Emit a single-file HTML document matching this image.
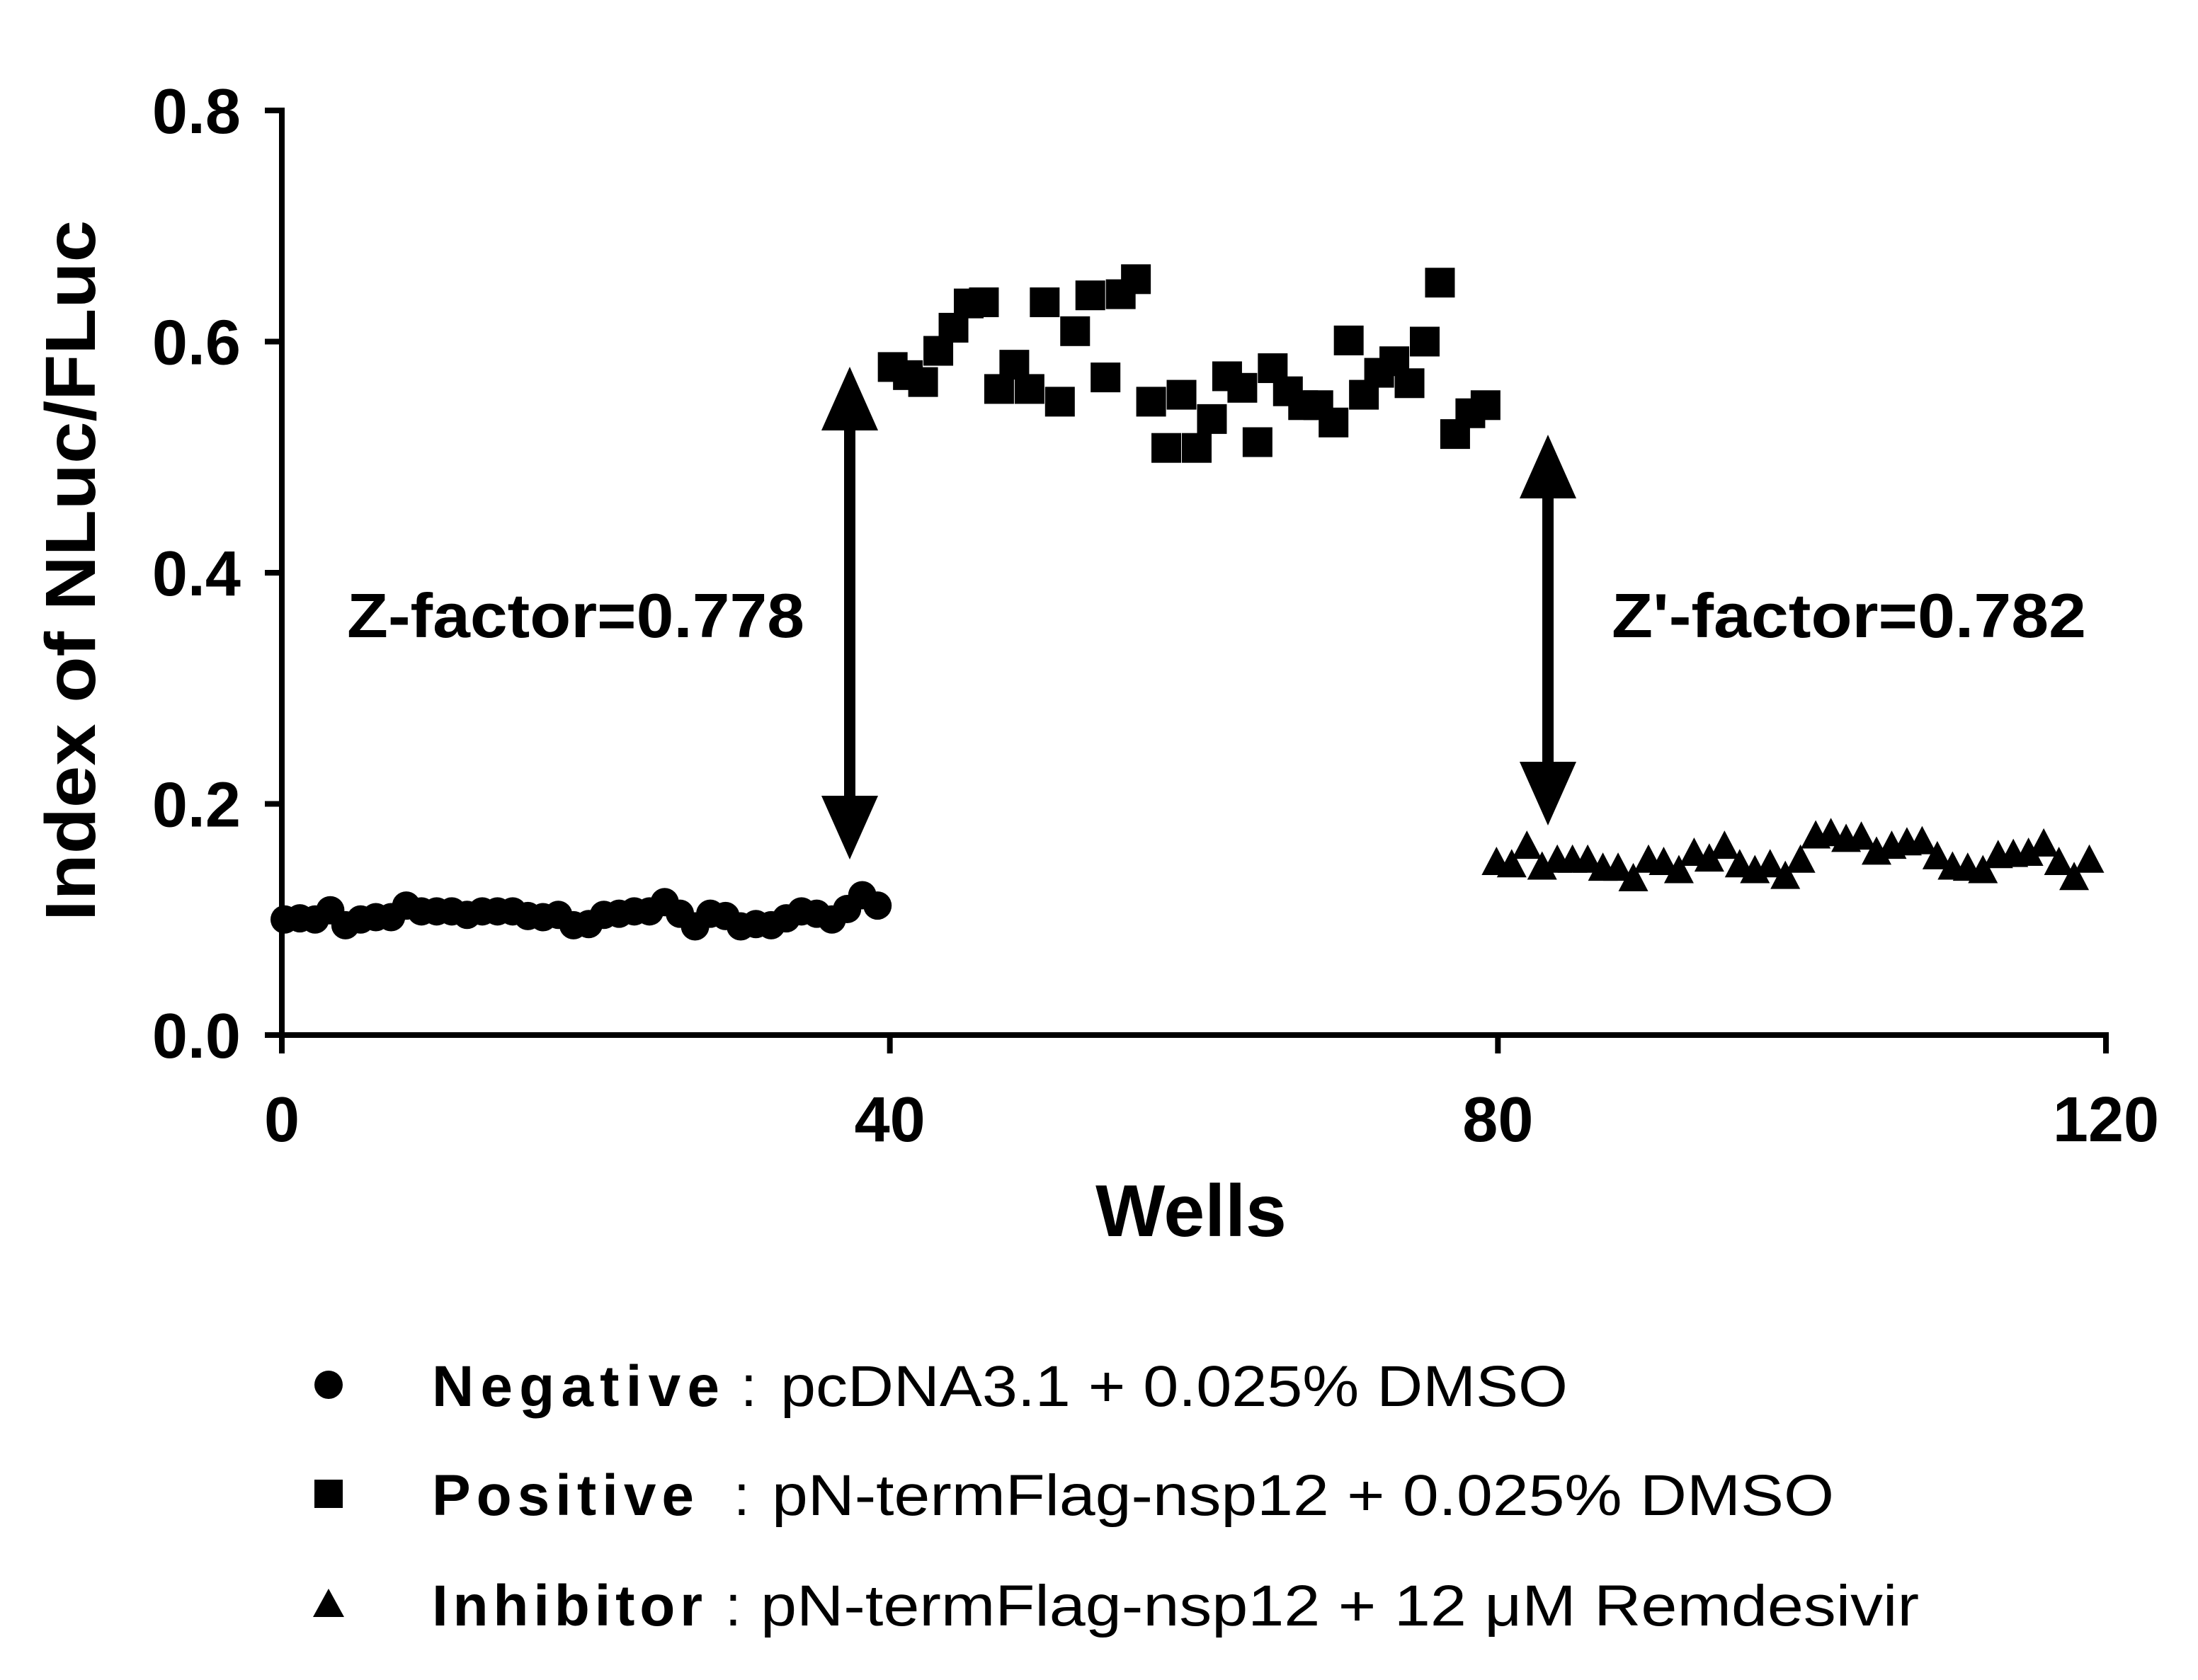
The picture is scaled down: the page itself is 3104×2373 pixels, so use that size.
<!DOCTYPE html>
<html><head><meta charset="utf-8"><style>
html,body{margin:0;padding:0;background:#fff}
svg{display:block}
text{font-family:"Liberation Sans",Arial,sans-serif;fill:#000}
</style></head><body>
<svg id="chart" width="3104" height="2373" viewBox="0 0 3104 2373" xmlns="http://www.w3.org/2000/svg">
<g id="axes"></g>
<g id="marks"></g>
<g>
<rect x="1192" y="590" width="16" height="540" fill="#000"/>
<polygon points="1200,518 1160,608 1240,608" fill="#000"/>
<polygon points="1200,1214 1160,1124 1240,1124" fill="#000"/>
</g>
<g>
<rect x="2178" y="680" width="16" height="420" fill="#000"/>
<polygon points="2186,614 2146,704 2226,704" fill="#000"/>
<polygon points="2186,1166 2146,1076 2226,1076" fill="#000"/>
</g>
<text x="490" y="900" font-size="88" font-weight="bold" textLength="646" lengthAdjust="spacingAndGlyphs">Z-factor=0.778</text>
<text x="2276" y="900" font-size="88" font-weight="bold" textLength="670" lengthAdjust="spacingAndGlyphs">Z'-factor=0.782</text>
<text x="1682" y="1746" font-size="104" font-weight="bold" text-anchor="middle">Wells</text>
<text transform="translate(134,806) rotate(-90)" font-size="100" font-weight="bold" text-anchor="middle" textLength="990" lengthAdjust="spacingAndGlyphs">Index of NLuc/FLuc</text>
<g>
<g>
<circle cx="464" cy="1956" r="20" fill="#000"/>
<text x="610" y="1986" font-size="82" font-weight="bold" textLength="406" lengthAdjust="spacing">Negative</text>
<text x="1046" y="1986" font-size="82">:</text>
<text x="1102" y="1986" font-size="82" textLength="1112" lengthAdjust="spacingAndGlyphs">pcDNA3.1 + 0.025% DMSO</text>
</g>
<g>
<rect x="444" y="2090" width="40" height="40" fill="#000"/>
<text x="610" y="2140" font-size="82" font-weight="bold" textLength="370" lengthAdjust="spacing">Positive</text>
<text x="1036" y="2140" font-size="82">:</text>
<text x="1090" y="2140" font-size="82" textLength="1500" lengthAdjust="spacingAndGlyphs">pN-termFlag-nsp12 + 0.025% DMSO</text>
</g>
<g>
<polygon points="464,2244 442,2284 486,2284" fill="#000"/>
<text x="610" y="2296" font-size="82" font-weight="bold" textLength="382" lengthAdjust="spacing">Inhibitor</text>
<text x="1024" y="2296" font-size="82">:</text>
<text x="1074" y="2296" font-size="82" textLength="1636" lengthAdjust="spacingAndGlyphs">pN-termFlag-nsp12 + 12 μM Remdesivir</text>
</g>
</g>
</svg>
<script>
const xTicks = [0, 40, 80, 120];
const yTicks = [0.0, 0.2, 0.4, 0.6, 0.8];
const yTickLabels = ["0.0", "0.2", "0.4", "0.6", "0.8"];
const negativeWells = Array.from({length: 40}, (_, i) => i);
const negativeValues = [0.100,0.101,0.100,0.108,0.095,0.100,0.102,0.102,0.112,0.107,0.107,0.107,0.104,0.107,0.107,0.107,0.103,0.102,0.104,0.095,0.096,0.104,0.105,0.107,0.107,0.115,0.105,0.094,0.105,0.103,0.094,0.096,0.095,0.101,0.107,0.105,0.100,0.109,0.121,0.112];
const positiveWells = Array.from({length: 40}, (_, i) => 40 + i);
const positiveValues = [0.578,0.571,0.565,0.592,0.612,0.633,0.634,0.559,0.580,0.559,0.634,0.548,0.609,0.640,0.569,0.641,0.654,0.548,0.508,0.554,0.508,0.533,0.570,0.560,0.513,0.577,0.557,0.545,0.545,0.530,0.601,0.554,0.573,0.583,0.564,0.600,0.651,0.520,0.538,0.545];
const inhibitorWells = Array.from({length: 40}, (_, i) => 80 + i);
const inhibitorValues = [0.147,0.145,0.161,0.143,0.149,0.149,0.149,0.142,0.142,0.133,0.149,0.147,0.140,0.155,0.150,0.161,0.145,0.140,0.145,0.135,0.149,0.170,0.172,0.167,0.169,0.156,0.161,0.164,0.165,0.152,0.143,0.142,0.140,0.153,0.154,0.155,0.163,0.147,0.134,0.149];

const NS = "http://www.w3.org/2000/svg";
const X0 = 398, X1 = 2974, Y0 = 1462, Y1 = 156;
const xScale = w => X0 + (w - 0) / 120 * (X1 - X0);
const yScale = v => Y0 - v / 0.8 * (Y0 - Y1);
function mk(tag, attrs, parent) {
  const el = document.createElementNS(NS, tag);
  for (const k in attrs) el.setAttribute(k, attrs[k]);
  parent.appendChild(el);
  return el;
}
const axes = document.getElementById('axes');
const marks = document.getElementById('marks');
let yAxis = mk('line', {x1: X0, y1: Y1 - 4, x2: X0, y2: Y0 + 4, stroke: '#000', 'stroke-width': 8}, axes);


let xAxis = mk('line', {x1: X0 - 4, y1: Y0, x2: X1 + 4, y2: Y0, stroke: '#000', 'stroke-width': 8}, axes);


yTicks.forEach((t, i) => {
  const y = yScale(t);
  const tk = mk('line', {x1: X0 - 24, y1: y, x2: X0, y2: y, stroke: '#000', 'stroke-width': 8}, axes);
  
  
  const lb = mk('text', {x: 340, y: y + 32, 'font-size': 90, 'font-weight': 'bold', 'text-anchor': 'end'}, axes);
  lb.textContent = yTickLabels[i];
  
  
});
xTicks.forEach(t => {
  const x = xScale(t);
  const tk = mk('line', {x1: x, y1: Y0, x2: x, y2: Y0 + 26, stroke: '#000', 'stroke-width': 8}, axes);
  
  
  const lb = mk('text', {x: x, y: 1612, 'font-size': 90, 'font-weight': 'bold', 'text-anchor': 'middle'}, axes);
  lb.textContent = String(t);
  
  
});
negativeWells.forEach((w, i) => {
  const c = mk('circle', {cx: xScale(w) + 4, cy: yScale(negativeValues[i]), r: 20, fill: '#000'}, marks);
  
  
});
positiveWells.forEach((w, i) => {
  const s = mk('rect', {x: xScale(w) + 4 - 21, y: yScale(positiveValues[i]) - 21, width: 42, height: 42, fill: '#000'}, marks);
  
  
});
inhibitorWells.forEach((w, i) => {
  const x = xScale(w) - 2, y = yScale(inhibitorValues[i]);
  const t = mk('polygon', {points: `${x},${y - 26} ${x - 21},${y + 14} ${x + 21},${y + 14}`, fill: '#000'}, marks);
  
  
});
</script>
</body></html>
